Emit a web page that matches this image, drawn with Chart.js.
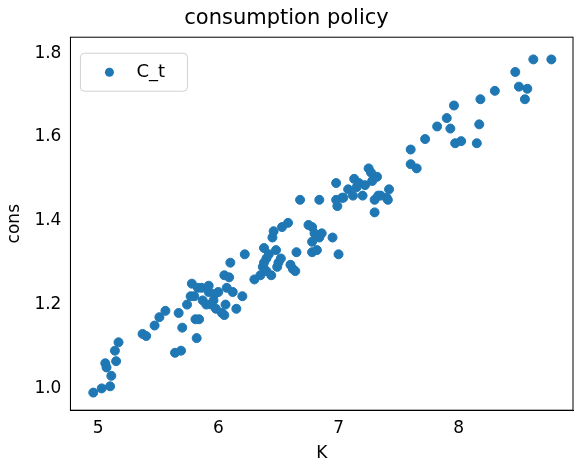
<!DOCTYPE html>
<html>
<head>
<meta charset="utf-8">
<script src="https://cdn.jsdelivr.net/npm/chart.js@4"></script>
<style>
  body { margin: 0; background: #fff; }
  #wrap { width: 584px; height: 472px; }
</style>
</head>
<body>
<div id="wrap"><canvas id="c"></canvas></div>
<script>
// capital K vs consumption
var kVals = [4.96,5.03,5.10,5.11,5.06,5.07,5.15,5.14,5.17,5.37,5.40,5.47,5.51,5.56,5.64,5.69,5.70,5.67,5.74,5.77,5.78,5.81,5.84,5.82,5.80,5.83,5.86,5.87,5.90,5.92,5.92,5.96,5.97,6.00,6.03,6.05,6.06,6.07,6.10,6.12,6.15,6.20,6.22,6.05,6.09,5.94,5.98,
  6.30,6.35,6.37,6.38,6.38,6.40,6.40,6.42,6.45,6.46,6.44,6.48,6.49,6.50,6.53,6.52,6.58,6.60,6.62,6.65,6.64,6.68,6.75,6.78,6.78,6.78,6.80,6.82,6.84,6.86,6.84,6.95,7.00,6.98,6.98,6.99,7.03,7.08,7.12,7.13,7.15,7.20,7.22,7.25,7.27,7.30,7.28,7.32,7.30,7.33,7.35,7.40,7.42,7.41,7.04,7.17,
  7.60,7.60,7.65,7.72,7.82,7.90,7.93,7.96,7.97,8.02,8.15,8.17,8.18,8.30,8.47,8.50,8.55,8.57,8.62,8.77];
var cVals = [0.99,1.00,1.005,1.03,1.06,1.05,1.065,1.09,1.11,1.13,1.125,1.15,1.17,1.185,1.085,1.09,1.145,1.18,1.20,1.22,1.25,1.165,1.165,1.12,1.22,1.24,1.24,1.21,1.20,1.23,1.245,1.21,1.225,1.23,1.18,1.27,1.20,1.24,1.30,1.23,1.19,1.22,1.32,1.175,1.265,1.20,1.19,
  1.26,1.27,1.29,1.30,1.335,1.31,1.28,1.32,1.36,1.375,1.27,1.33,1.29,1.30,1.385,1.31,1.395,1.295,1.285,1.325,1.28,1.45,1.39,1.385,1.35,1.325,1.37,1.33,1.36,1.37,1.45,1.36,1.32,1.49,1.45,1.435,1.455,1.475,1.46,1.50,1.48,1.46,1.485,1.525,1.515,1.45,1.495,1.505,1.42,1.46,1.46,1.455,1.475,1.45,1.455,1.49,
  1.57,1.535,1.525,1.595,1.625,1.645,1.62,1.675,1.585,1.59,1.585,1.63,1.69,1.71,1.755,1.72,1.69,1.715,1.785,1.785];
var xTicks = [5, 6, 7, 8];
var yTicks = [1.0, 1.2, 1.4, 1.6, 1.8];

var pts = kVals.map(function (k, i) { return { x: k, y: cVals[i] }; });
var blue = '#1f77b4';
var font = 'DejaVu Sans';

// legend box drawn inside the plot, upper left
var insideLegend = {
  id: 'insideLegend',
  afterDraw: function (chart) {
    var ctx = chart.ctx, a = chart.chartArea;
    var x = a.left + 10, y = a.top + 16, w = 107, h = 38;
    ctx.save();
    ctx.fillStyle = 'rgba(255,255,255,0.8)';
    ctx.strokeStyle = '#d0d0d0';
    ctx.lineWidth = 1;
    ctx.beginPath();
    ctx.roundRect(x, y, w, h, 4);
    ctx.fill();
    ctx.stroke();
    ctx.fillStyle = blue;
    ctx.beginPath();
    ctx.arc(x + 29, y + 19, 4.5, 0, Math.PI * 2);
    ctx.fill();
    ctx.fillStyle = '#000';
    ctx.font = '18px ' + font;
    ctx.textBaseline = 'middle';
    ctx.fillText('C_t', x + 56, y + 19);
    ctx.restore();
  }
};

function ticksFrom(list) {
  return function (axis) { axis.ticks = list.map(function (v) { return { value: v }; }); };
}

new Chart(document.getElementById('c'), {
  type: 'scatter',
  data: {
    datasets: [{
      label: 'C_t',
      data: pts,
      backgroundColor: blue,
      borderColor: blue,
      pointRadius: 4.5,
      pointHoverRadius: 4.5
    }]
  },
  options: {
    responsive: true,
    maintainAspectRatio: false,
    animation: false,
    layout: { padding: { top: 0, right: 11, bottom: 4, left: 0 } },
    plugins: {
      legend: { display: false },
      tooltip: { enabled: false },
      title: {
        display: true,
        text: 'consumption policy',
        color: '#000',
        font: { family: font, size: 21, weight: 'normal' },
        padding: { top: 6, bottom: 6 }
      }
    },
    scales: {
      x: {
        min: 4.77, max: 8.95,
        afterBuildTicks: ticksFrom(xTicks),
        grid: { display: false, drawTicks: true, tickLength: 5, tickColor: '#000' },
        border: { color: '#000', width: 1 },
        ticks: { color: '#000', font: { family: font, size: 17 }, padding: 3 },
        title: { display: true, text: 'K', color: '#000', font: { family: font, size: 17 }, padding: { top: 2 } }
      },
      y: {
        min: 0.948, max: 1.838,
        afterBuildTicks: ticksFrom(yTicks),
        grid: { display: false, drawTicks: true, tickLength: 5, tickColor: '#000' },
        border: { color: '#000', width: 1 },
        ticks: { color: '#000', font: { family: font, size: 17 }, padding: 4,
          callback: function (v) { return Number(v).toFixed(1); } },
        title: { display: true, text: 'cons', color: '#000', font: { family: font, size: 17 }, padding: { bottom: 6 } }
      }
    }
  },
  plugins: [insideLegend, {
    id: 'frame',
    afterDraw: function (chart) {
      var ctx = chart.ctx, a = chart.chartArea;
      ctx.save();
      ctx.strokeStyle = '#000';
      ctx.lineWidth = 1;
      ctx.strokeRect(a.left, a.top, a.right - a.left, a.bottom - a.top);
      ctx.restore();
    }
  }]
});
</script>
</body>
</html>
